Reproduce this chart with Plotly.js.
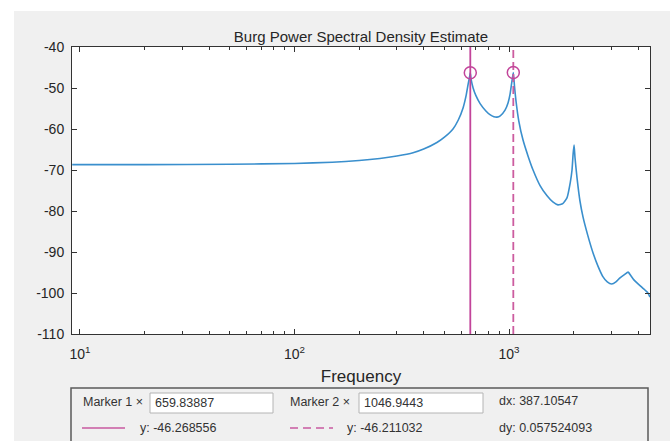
<!DOCTYPE html>
<html>
<head>
<meta charset="utf-8">
<script src="https://cdn.plot.ly/plotly-3.0.1.min.js"></script>
<style>html,body{margin:0;padding:0;background:#fff;}#chart{width:670px;height:441px;}</style>
</head>
<body>
<div id="chart"></div>
<script>
// ---- data ----
const freqHz = [9.2, 20, 50, 100, 150, 200, 250, 300, 357, 400, 461, 500, 548, 580, 611, 630, 645, 655, 659.83887,
  665, 680, 700, 733, 780, 815, 850, 879, 910, 958, 990, 1011, 1030, 1046.9443,
  1060, 1080, 1110, 1162, 1230, 1294, 1395, 1504, 1600, 1690, 1780, 1862, 1930, 1966, 1990, 2010,
  2030, 2075, 2140, 2213, 2330, 2466, 2600, 2738, 2870, 3010, 3150, 3290, 3450, 3590, 3700, 3820, 3960, 4200, 4440, 4540];
const psdDb = [-68.7, -68.7, -68.6, -68.4, -68.1, -67.7, -67.2, -66.6, -65.8, -64.9, -63.3, -62.0, -60.0, -57.8, -54.8, -52.0, -49.0, -47.2, -46.268556,
  -47.8, -50.0, -51.8, -53.8, -55.6, -56.5, -57.0, -57.1, -56.8, -55.4, -53.6, -51.5, -48.6, -46.211032,
  -49.5, -53.6, -58.0, -62.7, -66.8, -70.0, -73.8, -76.3, -77.8, -78.5, -78.2, -76.8, -73.0, -70.0, -66.0, -63.9,
  -67.0, -72.0, -77.5, -81.5, -86.0, -90.3, -93.5, -96.0, -97.3, -97.8, -97.3, -96.3, -95.5, -94.9, -95.8, -96.8, -97.6, -98.8, -100.0, -101.0];
const markerX = [659.83887, 1046.9443];
const markerY = [-46.268556, -46.211032];
const markerXText = ["659.83887", "1046.9443"];
const markerYText = ["-46.268556", "-46.211032"];
const deltaText = ["dx: 387.10547", "dy: 0.057524093"];
const yRange = [-110, -40];
const yTickVals = [-110, -100, -90, -80, -70, -60, -50, -40];
const yTickText = ["-110", "-100", "-90", "-80", "-70", "-60", "-50", "-40"];
const xTickVals = [10, 100, 1000];
const xTickText = ["10<sup>1</sup>", "10<sup>2</sup>", "10<sup>3</sup>"];
const xRangeHz = [9.18, 4540];

// ---- layout helpers (pixel -> paper) ----
const L = 72, R = 650, T = 47, B = 334, W = 670, H = 441;
const px = v => (v - L) / (R - L);
const py = v => (B - v) / (B - T);

const pink = '#c2449a';
const pinkDash = '#cc5c9f';
const font = 'Liberation Sans, Arial, Helvetica, sans-serif';
const txt = '#262626';

const traces = [
  {x: freqHz, y: psdDb, type: 'scatter', mode: 'lines', line: {color: '#3a8fcd', width: 1.6, shape: 'spline', smoothing: 0.5}, hoverinfo: 'skip'},
  {x: [markerX[0], markerX[0]], y: yRange, type: 'scatter', mode: 'lines', line: {color: pink, width: 1.8}},
  {x: [markerX[1], markerX[1]], y: yRange, type: 'scatter', mode: 'lines', line: {color: pinkDash, width: 1.8, dash: '8px,4px'}},
  {x: markerX, y: markerY, type: 'scatter', mode: 'markers', marker: {symbol: 'circle-open', size: 12, color: pink, line: {width: 1.5, color: pink}}}
];

const shapes = [
  // white strips at the top-left edge of the screenshot
  {type: 'rect', xref: 'paper', yref: 'paper', x0: px(-5), x1: px(14), y0: py(-5), y1: py(446), fillcolor: '#ffffff', line: {width: 0}, layer: 'below'},
  {type: 'rect', xref: 'paper', yref: 'paper', x0: px(-5), x1: px(675), y0: py(-5), y1: py(11), fillcolor: '#ffffff', line: {width: 0}, layer: 'below'},
  // marker panel
  {type: 'rect', xref: 'paper', yref: 'paper', x0: px(71), x1: px(648), y0: py(388), y1: py(470), fillcolor: '#f0f0f0', line: {color: '#5a5a5a', width: 1.5}},
  {type: 'rect', xref: 'paper', yref: 'paper', x0: px(150), x1: px(273), y0: py(393), y1: py(413), fillcolor: '#ffffff', line: {color: '#b4b4b4', width: 1}},
  {type: 'rect', xref: 'paper', yref: 'paper', x0: px(359), x1: px(483), y0: py(393), y1: py(413), fillcolor: '#ffffff', line: {color: '#b4b4b4', width: 1}},
  {type: 'line', xref: 'paper', yref: 'paper', x0: px(82), x1: px(125), y0: py(428), y1: py(428), line: {color: '#d27fb4', width: 2}},
  {type: 'line', xref: 'paper', yref: 'paper', x0: px(290), x1: px(333), y0: py(428), y1: py(428), line: {color: '#d27fb4', width: 2, dash: '8px,5px'}}
];

const ann = (x, y, text, size) => ({xref: 'paper', yref: 'paper', x: px(x), y: py(y), text: text, showarrow: false,
  xanchor: 'left', yanchor: 'middle', font: {family: font, size: size || 12.5, color: '#333'}});

const annotations = [
  ann(81, 402, 'Marker 1 ×'),
  ann(153, 403, markerXText[0]),
  ann(288, 402, 'Marker 2 ×'),
  ann(362, 403, markerXText[1]),
  ann(497, 401, deltaText[0]),
  ann(138, 428, 'y: ' + markerYText[0]),
  ann(345, 428, 'y: ' + markerYText[1]),
  ann(497, 428, deltaText[1])
];

const layout = {
  width: W, height: H,
  margin: {l: L, r: W - R, t: T, b: H - B, pad: 0},
  paper_bgcolor: '#f0f0f0',
  plot_bgcolor: '#ffffff',
  showlegend: false,
  title: {text: 'Burg Power Spectral Density Estimate', x: px(361), xref: 'paper', xanchor: 'center',
    y: 1 - 37 / H, yref: 'container', yanchor: 'middle', font: {family: font, size: 15, color: txt}},
  xaxis: {
    type: 'log', range: [Math.log10(xRangeHz[0]), Math.log10(xRangeHz[1])],
    tickvals: xTickVals, ticktext: xTickText,
    ticks: 'inside', ticklen: 5, tickcolor: '#333', tickwidth: 1,
    minor: {ticks: 'inside', ticklen: 3, tickcolor: '#333', dtick: 'D1', showgrid: false},
    showline: true, linecolor: '#333', linewidth: 1, mirror: 'ticks',
    showgrid: false, zeroline: false, ticklabelstandoff: 7,
    tickfont: {family: font, size: 14, color: txt},
    title: {text: 'Frequency', font: {family: font, size: 17, color: txt}, standoff: 9}
  },
  yaxis: {
    range: yRange, tickvals: yTickVals, ticktext: yTickText,
    ticks: 'inside', ticklen: 5, tickcolor: '#333', tickwidth: 1,
    showline: true, linecolor: '#333', linewidth: 1, mirror: 'ticks',
    showgrid: false, zeroline: false, ticklabelstandoff: 4,
    tickfont: {family: font, size: 14, color: txt}
  },
  shapes: shapes,
  annotations: annotations
};

Plotly.newPlot('chart', traces, layout, {staticPlot: true, displayModeBar: false});
</script>
</body>
</html>
